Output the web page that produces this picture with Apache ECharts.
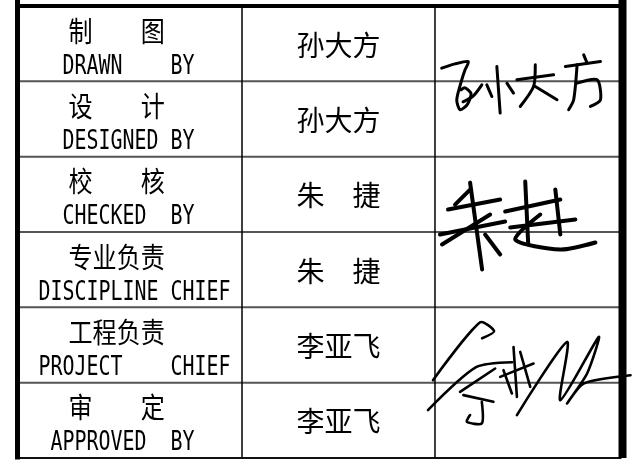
<!DOCTYPE html>
<html>
<head>
<meta charset="utf-8">
<script src="https://cdn.jsdelivr.net/npm/echarts@6/dist/echarts.min.js"></script>
<style>
html,body{margin:0;padding:0;background:#fff;}
#chart{width:632px;height:460px;}
</style>
</head>
<body>
<div id="chart"></div>
<script>
// ---- table content ----
const roleCn = ['制　　图', '设　　计', '校　　核', '专业负责', '工程负责', '审　　定'];
const roleEn = ['  DRAWN    BY', '  DESIGNED BY', '  CHECKED  BY', 'DISCIPLINE CHIEF', 'PROJECT    CHIEF', ' APPROVED  BY'];
const names = ['孙大方', '孙大方', '朱　捷', '朱　捷', '李亚飞', '李亚飞'];
const rowIndex = [0, 1, 2, 3, 4, 5];
// signature blocks: [first row, last row]
const signatureRows = [[0, 1], [2, 3], [4, 5]];

// ---- layout / drawing helpers (not data) ----
const COL_EDGES = [0, 0.3717, 0.6912, 1];
const SIG_REF_W = 186, SIG_REF_H = 151;
const SIGNATURE_STROKES = [
  { width: 3, strokes: [
    [[6.7,62.3],[20,58],[33.3,55.7],[30,64],[26.7,74],[21.7,94],[25,104],[32,99],[36,88],[30,82],[26,84]],
    [[28,96],[38.3,90],[46.7,79]],
    [[61.7,60.7],[65,107.3]],
    [[51.7,79],[56.7,90.7]],
    [[71.7,77.3],[78.3,87.3]],
    [[81.7,74],[118.3,69]],
    [[100,59],[98.3,80.7],[85,100.7]],
    [[100,80.7],[121.7,94]],
    [[148.3,49],[151.7,57.3]],
    [[130,60.7],[165,55.7]],
    [[141.7,59],[138.3,94],[133.3,104]],
    [[141.7,77.3],[161.7,74],[165,94],[155,100.7]]
  ]},
  { width: 4, strokes: [
    [[35,26],[47,113]],
    [[13,53],[65,43]],
    [[5,78],[70,65]],
    [[7,88],[55,58]],
    [[50,78],[65,98]],
    [[35,33],[20,48]],
    [[90,25],[93,88]],
    [[70,55],[125,43]],
    [[75,71],[140,63]],
    [[105,58],[80,83],[125,93],[160,86]],
    [[120,33],[125,78]]
  ]},
  { width: 2.6, strokes: [
    [[-2,73],[45,15],[59,24],[47,31]],
    [[-7,103],[41,60],[77,55]],
    [[25,84.7],[60,61.3]],
    [[28.3,88],[58.3,94.7]],
    [[46.7,94.7],[46.7,116.3],[31.7,114.7],[35,108]],
    [[68.3,63],[76.7,86.3]],
    [[78.3,39.7],[81.7,89.7]],
    [[65,69.7],[98.3,56.3]],
    [[85,44.7],[95,79.7]],
    [[81.7,108],[131.7,34.7],[125,93],[163.3,29.7],[151.7,66.3],[131.7,96.3],[148.3,76.3],[195,68]]
  ]}
];

function colXs(api) {
  const x0 = api.coord([0, 0])[0], x1 = api.coord([1, 0])[0];
  return COL_EDGES.map(f => x0 + f * (x1 - x0));
}

function renderRow(params, api) {
  const r = api.value(0);
  const top = api.coord([0, r])[1];
  const bottom = api.coord([0, r + 1])[1];
  const xs = colXs(api);
  const children = [];
  if (r < rowIndex.length - 1) {
    children.push({ type: 'line', shape: { x1: xs[0], y1: bottom, x2: xs[3], y2: bottom },
      style: { stroke: '#555', lineWidth: 2 } });
  }
  children.push({ type: 'text', x: xs[0] + 51, y: top + 25, scaleX: 0.86,
    style: { text: roleCn[r], fill: '#000', fontSize: 28, fontFamily: '"Noto Sans CJK SC"', align: 'left', verticalAlign: 'middle' } });
  children.push({ type: 'text', x: xs[0] + 21, y: top + 60.5, scaleX: 0.738,
    style: { text: roleEn[r], fill: '#000', fontSize: 27, fontFamily: '"DejaVu Sans Mono"', align: 'left', verticalAlign: 'middle' } });
  children.push({ type: 'text', x: (xs[1] + xs[2]) / 2, y: top + 39,
    style: { text: names[r], fill: '#000', fontSize: 28, fontFamily: '"Noto Sans CJK SC"', align: 'center', verticalAlign: 'middle' } });
  return { type: 'group', children };
}

function renderFrame(params, api) {
  const xs = colXs(api);
  const top = api.coord([0, 0])[1];
  const bottom = api.coord([0, rowIndex.length])[1];
  return { type: 'group', children: [
    { type: 'line', shape: { x1: xs[1], y1: top, x2: xs[1], y2: bottom }, style: { stroke: '#000', lineWidth: 1.5 } },
    { type: 'line', shape: { x1: xs[2], y1: top, x2: xs[2], y2: bottom }, style: { stroke: '#000', lineWidth: 1.5 } },
    { type: 'line', shape: { x1: xs[0], y1: top, x2: xs[3], y2: top }, style: { stroke: '#000', lineWidth: 4 } },
    { type: 'line', shape: { x1: xs[0], y1: bottom, x2: xs[3], y2: bottom }, style: { stroke: '#111', lineWidth: 2 } },
    { type: 'line', shape: { x1: xs[0], y1: 0, x2: xs[0], y2: bottom + 1.5 }, style: { stroke: '#000', lineWidth: 5 } },
    { type: 'line', shape: { x1: xs[3] + 1, y1: 0, x2: xs[3] + 1, y2: bottom }, style: { stroke: '#000', lineWidth: 8 } }
  ]};
}

function renderSignature(params, api) {
  const r0 = api.value(0), r1 = api.value(1);
  const xs = colXs(api);
  const top = api.coord([0, r0])[1];
  const bottom = api.coord([0, r1 + 1])[1];
  const sx = (xs[3] - xs[2]) / SIG_REF_W, sy = (bottom - top) / SIG_REF_H;
  const sig = SIGNATURE_STROKES[params.dataIndex];
  return { type: 'group', children: sig.strokes.map(s => ({
    type: 'polyline',
    shape: { points: s.map(p => [xs[2] + p[0] * sx, top + p[1] * sy]), smooth: 0.25 },
    style: { stroke: '#000', lineWidth: sig.width, fill: null, lineCap: 'round', lineJoin: 'round' }
  }))};
}

const chart = echarts.init(document.getElementById('chart'), null, { renderer: 'canvas' });
chart.setOption({
  backgroundColor: '#fff',
  animation: false,
  grid: { left: 17.5, right: 10.5, top: 6, bottom: 2 },
  xAxis: { type: 'value', min: 0, max: 1, show: false },
  yAxis: { type: 'value', min: 0, max: rowIndex.length, inverse: true, show: false },
  series: [
    { type: 'custom', z: 1, renderItem: renderRow, data: rowIndex.map(i => [i]), silent: true },
    { type: 'custom', z: 2, renderItem: renderFrame, data: [[0]], silent: true },
    { type: 'custom', z: 3, renderItem: renderSignature, data: signatureRows, silent: true }
  ]
});
</script>
</body>
</html>
